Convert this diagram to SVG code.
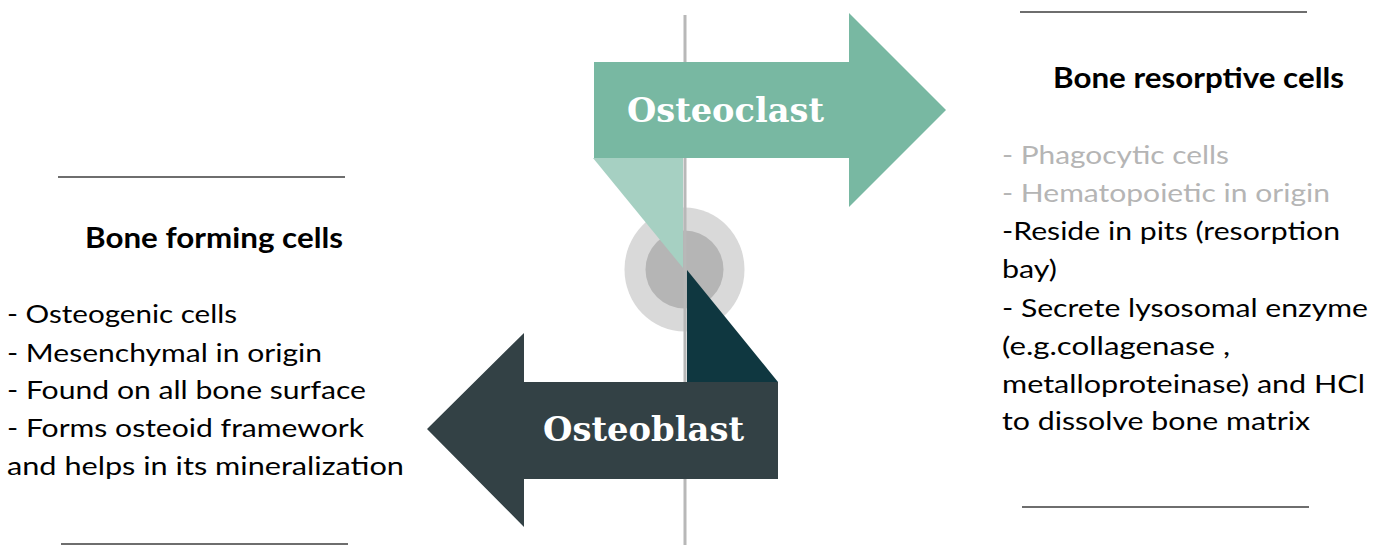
<svg xmlns="http://www.w3.org/2000/svg" width="1377" height="545" viewBox="0 0 1377 545">
<style>
.rule{stroke:#6e6e6e;stroke-width:2;fill:none}
.hd{font-family:Lato,"Liberation Sans",sans-serif;font-weight:bold;font-size:28px;fill:#000}
.bd{font-family:Lato,"Liberation Sans",sans-serif;font-size:25px;fill:#000}
.gr{fill:#b5b5b5}
.lbl{font-family:"DejaVu Serif","Liberation Serif",serif;font-weight:bold;font-size:34px;fill:#fff}
</style>
<rect width="1377" height="545" fill="#fff"/>
<g id="center">
<ellipse cx="684.5" cy="269.5" rx="60" ry="62" fill="#d9d9d9"/>
<circle cx="684.5" cy="269.5" r="39" fill="#b5b5b5"/>
<line x1="685" y1="15" x2="685" y2="545" stroke="#b8b8b8" stroke-width="3"/>
</g>
<g id="osteoclast">
<polygon points="593,158 683,158 683,268" fill="#a6d0c2"/>
<polygon points="594,62 849,62 849,13 946,110 849,207 849,158 594,158" fill="#78b8a2"/>
<text class="lbl" x="627" y="122" textLength="197" lengthAdjust="spacingAndGlyphs">Osteoclast</text>
</g>
<g id="osteoblast">
<polygon points="687,270 778,382 687,382" fill="#0f3740"/>
<polygon points="778,382 524,382 524,333 427,429 524,527 524,479 778,479" fill="#334145"/>
<text class="lbl" x="543" y="441" textLength="201" lengthAdjust="spacingAndGlyphs">Osteoblast</text>
</g>
<g id="resorptive">
<line class="rule" x1="1020" y1="12" x2="1307" y2="12"/>
<text class="hd" x="1053" y="88" textLength="291" lengthAdjust="spacingAndGlyphs">Bone resorptive cells</text>
<text class="bd gr" x="1002" y="164" textLength="227" lengthAdjust="spacingAndGlyphs">- Phagocytic cells</text>
<text class="bd gr" x="1002" y="202" textLength="328" lengthAdjust="spacingAndGlyphs">- Hematopoietic in origin</text>
<text class="bd" x="1002" y="240" textLength="338" lengthAdjust="spacingAndGlyphs">-Reside in pits (resorption</text>
<text class="bd" x="1002" y="278" textLength="55" lengthAdjust="spacingAndGlyphs">bay)</text>
<text class="bd" x="1002" y="317" textLength="366" lengthAdjust="spacingAndGlyphs">- Secrete lysosomal enzyme</text>
<text class="bd" x="1002" y="355" textLength="228" lengthAdjust="spacingAndGlyphs">(e.g.collagenase ,</text>
<text class="bd" x="1002" y="393" textLength="363" lengthAdjust="spacingAndGlyphs">metalloproteinase) and HCl</text>
<text class="bd" x="1002" y="430" textLength="308" lengthAdjust="spacingAndGlyphs">to dissolve bone matrix</text>
<line class="rule" x1="1022" y1="507" x2="1309" y2="507"/>
</g>
<g id="forming">
<line class="rule" x1="58" y1="177" x2="345" y2="177"/>
<text class="hd" x="85" y="248" textLength="258" lengthAdjust="spacingAndGlyphs">Bone forming cells</text>
<text class="bd" x="7" y="323" textLength="230" lengthAdjust="spacingAndGlyphs">- Osteogenic cells</text>
<text class="bd" x="7" y="362" textLength="315" lengthAdjust="spacingAndGlyphs">- Mesenchymal in origin</text>
<text class="bd" x="7" y="399" textLength="359" lengthAdjust="spacingAndGlyphs">- Found on all bone surface</text>
<text class="bd" x="7" y="437" textLength="357" lengthAdjust="spacingAndGlyphs">- Forms osteoid framework</text>
<text class="bd" x="7" y="475" textLength="397" lengthAdjust="spacingAndGlyphs">and helps in its mineralization</text>
<line class="rule" x1="61" y1="544" x2="348" y2="544"/>
</g>
</svg>
